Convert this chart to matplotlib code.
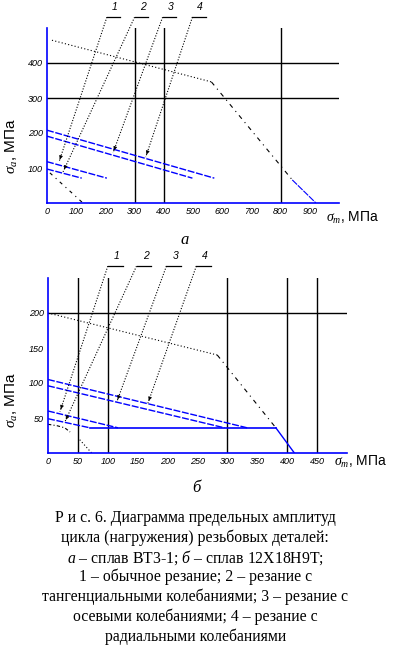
import matplotlib
matplotlib.use('Agg')
import matplotlib.pyplot as plt

plt.rcParams['mathtext.fontset'] = 'custom'
plt.rcParams['mathtext.rm'] = 'Liberation Serif'
plt.rcParams['mathtext.it'] = 'Liberation Serif:italic'
plt.rcParams['font.family'] = ['Liberation Sans', 'DejaVu Sans']

BLUE = '#0000ff'

# ---- chart a: alloy VT3-1 ----
a_xticks = [0, 100, 200, 300, 400, 500, 600, 700, 800, 900]
a_yticks = [100, 200, 300, 400]
a_grid_x = [300, 400, 800]
a_grid_y = [300, 400]
a_limit_x = [17, 563, 840, 921]
a_limit_y = [465, 346, 66, 0]
a_small_x = [10, 123]
a_small_y = [86, 0]
a_lines = [([0, 573], [208, 71]),
           ([0, 498], [191, 71]),
           ([0, 205], [118, 71]),
           ([0, 119], [97, 71])]
a_lead_start = [205, 300, 396, 498]
a_lead_end_x = [41, 55, 226, 338]
a_lead_end_y = [117, 89, 143, 131]
a_lead_top = 531

# ---- chart b: steel 12X18H9T ----
b_xticks = [0, 50, 100, 150, 200, 250, 300, 350, 400, 450]
b_yticks = [50, 100, 150, 200]
b_grid_x = [50, 100, 300, 400, 450]
b_grid_y = [200]
b_limit_x = [0, 283, 381, 412]
b_limit_y = [200, 140, 36, 0]
b_flat_x = [70, 381]
b_flat_y = [36, 36]
b_curve_x = [0, 15, 28, 37]
b_curve_y = [41, 39, 36, 30]
b_small_x = [53, 73]
b_small_y = [19, 0]
b_lines = [([0, 333], [105, 36]),
           ([0, 295], [96, 36]),
           ([0, 117], [60, 36]),
           ([0, 70], [49, 36])]
b_lead_start = [100, 148, 198, 248]
b_lead_end_x = [20, 28, 115, 167]
b_lead_end_y = [59, 44, 73, 71]
b_lead_top = 267

labels = ['1', '2', '3', '4']

caption = [
    'Р и с. 6. Диаграмма предельных амплитуд',
    'цикла (нагружения) резьбовых деталей:',
    r'$\mathit{а}$ – сплав ВТ3-1; $\mathit{б}$ – сплав 12Х18Н9Т;',
    '1 – обычное резание; 2 – резание с',
    'тангенциальными колебаниями; 3 – резание с',
    'осевыми колебаниями; 4 – резание с',
    'радиальными колебаниями',
]
caption_y = [518, 538, 558, 577, 597, 617, 637]

W, H = 393, 661
fig = plt.figure(figsize=(W / 100, H / 100), dpi=100)


def draw(ax, xmax, ymax, xticks, yticks, gx, gy, lines, starts, ex, ey, top, ul):
    ax.set_xlim(0, xmax)
    ax.set_ylim(0, ymax)
    for s in ['top', 'right']:
        ax.spines[s].set_visible(False)
    for s in ['left', 'bottom']:
        ax.spines[s].set_color(BLUE)
        ax.spines[s].set_linewidth(1.2)
    ax.set_xticks(xticks)
    ax.set_yticks(yticks)
    ax.tick_params(length=0, labelsize=6.5, pad=3)
    for t in ax.get_xticklabels() + ax.get_yticklabels():
        t.set_fontstyle('italic')
    for x in gx:
        ax.plot([x, x], [0, ymax], color='k', lw=1)
    for y in gy:
        ax.plot([0, xmax], [y, y], color='k', lw=1)
    for xs, ys in lines:
        ax.plot(xs, ys, color=BLUE, lw=1, ls=(0, (5, 1.2)))
    for s, x1, y1, lab in zip(starts, ex, ey, labels):
        ax.plot([s, x1], [top, y1], color='k', lw=0.8, ls=(0, (1, 1.5)), clip_on=False)
        ax.plot([s, s + ul], [top, top], color='k', lw=0.9, clip_on=False)
        dx = (x1 - s) * 0.04
        dy = (y1 - top) * 0.04
        ax.annotate('', xy=(x1, y1), xytext=(x1 - dx, y1 - dy),
                    arrowprops=dict(arrowstyle='-|>', color='k', lw=0.6,
                                    mutation_scale=5),
                    annotation_clip=False)
        ax.text(s + ul * 0.6, top + ymax * 0.03, lab, fontsize=7.5, style='italic',
                ha='center', va='bottom', clip_on=False)


# chart a
ax1 = fig.add_axes([47 / W, 1 - 203 / H, 292 / W, 175 / H])
draw(ax1, 1000, 500, a_xticks, a_yticks, a_grid_x, a_grid_y, a_lines,
     a_lead_start, a_lead_end_x, a_lead_end_y, a_lead_top, 45)
ax1.plot(a_limit_x[:2], a_limit_y[:2], color='k', lw=0.8, ls=(0, (1, 2)))
ax1.plot(a_limit_x[1:3], a_limit_y[1:3], color='k', lw=0.8, ls=(0, (4, 4, 1, 4)))
ax1.plot(a_limit_x[2:], a_limit_y[2:], color=BLUE, lw=0.8, ls=(0, (6, 1)))
ax1.plot(a_small_x, a_small_y, color='k', lw=0.8, ls=(0, (3, 4, 1, 4)))
ax1.text(-0.12, 0.326, r'$\sigma_a$, МПа', transform=ax1.transAxes, rotation=90,
         fontsize=11, ha='center', va='center')
ax1.text(0.955, -0.085, r'$\sigma_m$, МПа', transform=ax1.transAxes,
         fontsize=10, ha='left', va='center', clip_on=False)
fig.text(185 / W, 1 - 240 / H, 'а', fontsize=12, style='italic',
         family='Liberation Serif', ha='center', va='center')

# chart b
ax2 = fig.add_axes([48 / W, 1 - 453 / H, 299 / W, 175 / H])
draw(ax2, 500, 250, b_xticks, b_yticks, b_grid_x, b_grid_y, b_lines,
     b_lead_start, b_lead_end_x, b_lead_end_y, b_lead_top, 25)
ax2.plot(b_limit_x[:2], b_limit_y[:2], color='k', lw=0.8, ls=(0, (1, 2)))
ax2.plot(b_limit_x[1:3], b_limit_y[1:3], color='k', lw=0.8, ls=(0, (4, 4, 1, 4)))
ax2.plot(b_limit_x[2:], b_limit_y[2:], color=BLUE, lw=1)
ax2.plot(b_flat_x, b_flat_y, color=BLUE, lw=1.2)
ax2.plot(b_curve_x, b_curve_y, color='k', lw=0.8, ls=(0, (3, 2, 1, 2)))
ax2.plot(b_small_x, b_small_y, color='k', lw=0.8, ls=(0, (1, 2)))
ax2.text(-0.12, 0.30, r'$\sigma_a$, МПа', transform=ax2.transAxes, rotation=90,
         fontsize=11, ha='center', va='center')
ax2.text(0.955, -0.05, r'$\sigma_m$, МПа', transform=ax2.transAxes,
         fontsize=10, ha='left', va='center', clip_on=False)
fig.text(196 / W, 1 - 488 / H, 'б', fontsize=12, style='italic',
         family='Liberation Serif', ha='center', va='center')

for line, y in zip(caption, caption_y):
    fig.text(0.497, 1 - y / H, line, fontsize=11.3, family='Liberation Serif',
             ha='center', va='center')

fig.savefig('out.png', dpi=100)
